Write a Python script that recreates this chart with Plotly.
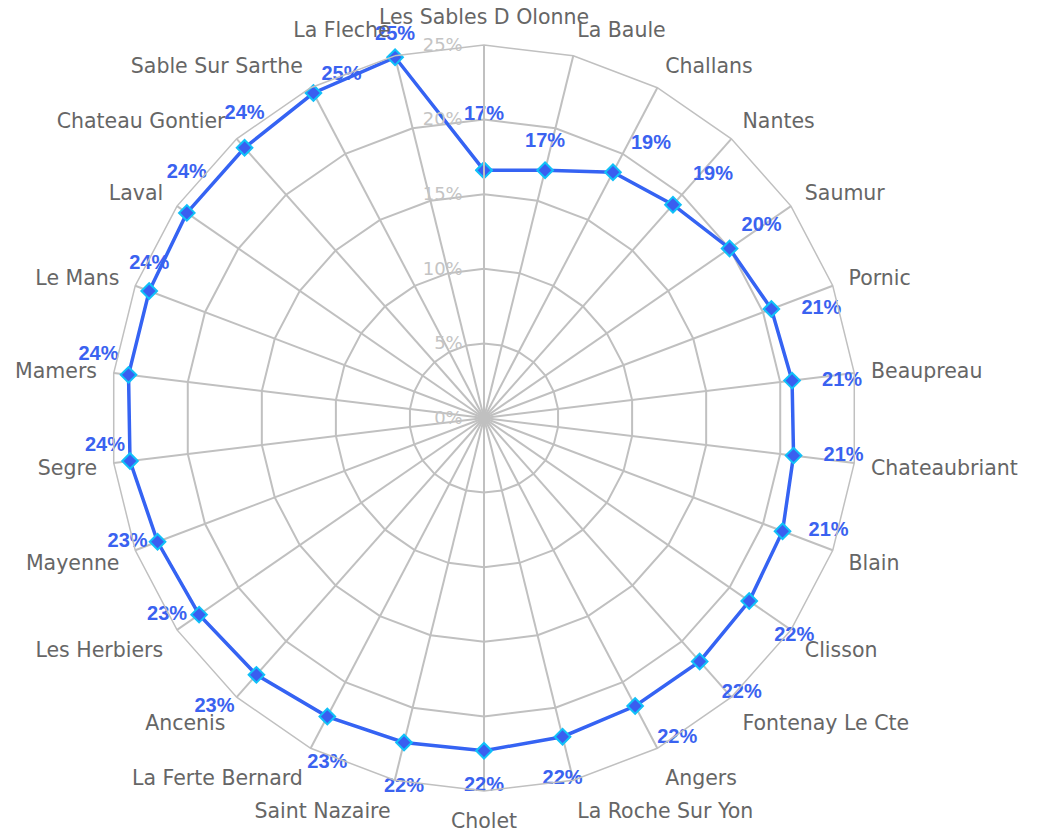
import plotly.graph_objects as go

cities = ["Les Sables D Olonne", "La Baule", "Challans", "Nantes", "Saumur", "Pornic",
          "Beaupreau", "Chateaubriant", "Blain", "Clisson", "Fontenay Le Cte", "Angers",
          "La Roche Sur Yon", "Cholet", "Saint Nazaire", "La Ferte Bernard", "Ancenis",
          "Les Herbiers", "Mayenne", "Segre", "Mamers", "Le Mans", "Laval",
          "Chateau Gontier", "Sable Sur Sarthe", "La Fleche"]
rates = [16.6, 17.1, 18.6, 19.1, 20.0, 20.6, 20.8, 20.9, 21.4, 21.6, 21.8, 21.8,
         22.0, 22.3, 22.4, 22.6, 23.0, 23.2, 23.4, 23.9, 24.0, 24.0, 24.2, 24.2, 24.6, 24.9]
radial_ticks = [0, 5, 10, 15, 20, 25]

# placement of the value labels around each point (style only)
label_positions = [
    "top center", "top center", "top right", "top right", "top right",
    "middle right", "middle right", "middle right", "middle right",
    "bottom right", "bottom right", "bottom right",
    "bottom center", "bottom center", "bottom center", "bottom center",
    "bottom left", "middle left", "middle left",
    "top left", "top left", "top center",
    "top center", "top center", "top right", "top center",
]
# gap between each point and its label (pixels, style only)
label_gaps = [45, 18, 18, 20, 12, 30, 30, 30, 26, 25, 22, 22,
              32, 25, 34, 36, 22, 12, 10, 5, 10, 17, 30, 24, 8, 12]
gap_marker_sizes = [(g - 1) * 1.6 for g in label_gaps]

fig = go.Figure()
# line + visible markers
fig.add_trace(go.Scatterpolar(
    r=rates + [rates[0]],
    theta=cities + [cities[0]],
    mode="lines+markers",
    line=dict(color="#3563f3", width=3.5),
    marker=dict(symbol="diamond", size=12, color="#3a5ef0",
                line=dict(color="#10c0f8", width=2)),
    cliponaxis=False,
    hoverinfo="skip",
    showlegend=False,
))
# value labels (invisible markers set the distance of the text from the points)
fig.add_trace(go.Scatterpolar(
    r=rates,
    theta=cities,
    mode="markers+text",
    text=["%d%%" % round(v) for v in rates],
    textposition=label_positions,
    textfont=dict(family="Liberation Sans", size=20, color="#3a62f0", weight="bold"),
    marker=dict(size=gap_marker_sizes, color="rgba(0,0,0,0)", line=dict(width=0)),
    cliponaxis=False,
    hoverinfo="skip",
    showlegend=False,
))

fig.update_layout(
    width=1038, height=832,
    margin=dict(l=103, r=189, t=37, b=49),
    paper_bgcolor="white",
    plot_bgcolor="white",
    polar=dict(
        bgcolor="white",
        gridshape="linear",
        radialaxis=dict(
            range=[0, 25],
            tickvals=radial_ticks,
            ticktext=["%d%%" % t for t in radial_ticks],
            angle=90,
            tickangle=90,
            side="counterclockwise",
            showline=True,
            linecolor="#c0c0c0",
            linewidth=2,
            gridcolor="#c0c0c0",
            gridwidth=1.5,
            ticks="outside",
            ticklen=14,
            tickcolor="rgba(0,0,0,0)",
            tickfont=dict(family="DejaVu Sans", size=18, color="#c4c4c4"),
        ),
        angularaxis=dict(
            categoryorder="array",
            categoryarray=cities,
            direction="clockwise",
            rotation=90,
            showline=True,
            linecolor="#c0c0c0",
            linewidth=1.5,
            gridcolor="#c0c0c0",
            gridwidth=1.5,
            ticks="outside",
            ticklen=12,
            tickcolor="rgba(0,0,0,0)",
            tickfont=dict(family="DejaVu Sans", size=20.5, color="#666666"),
        ),
    ),
)

fig.write_html("out.html")
